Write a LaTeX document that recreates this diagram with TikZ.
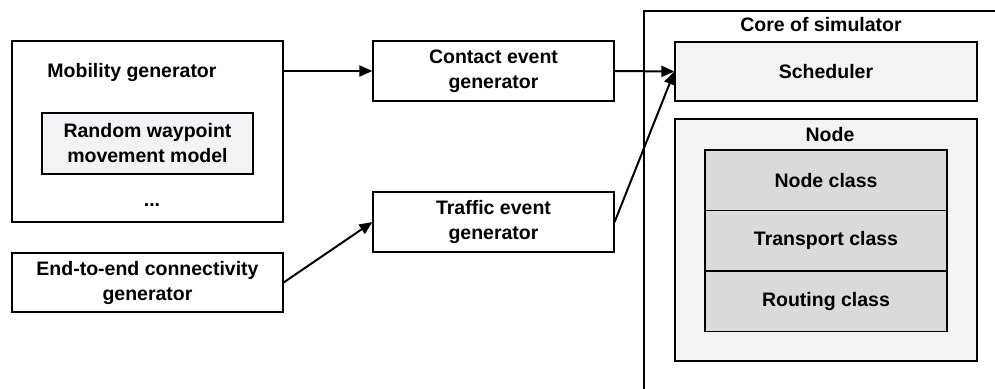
\documentclass[tikz,border=0pt]{standalone}
\usepackage{fontspec}
\setmainfont{Liberation Sans}
\usetikzlibrary{arrows.meta}
\definecolor{boxlight}{HTML}{F2F3F5}
\definecolor{boxgray}{HTML}{DADAD8}
\begin{document}
\begin{tikzpicture}[
    x=1pt, y=-1pt,
    every node/.style={font=\fontsize{19.5}{25}\selectfont\bfseries, align=center, inner sep=0pt},
    box/.style={draw, line width=1.2pt, rectangle},
    link/.style={line width=2pt, -{Triangle[length=13pt, width=11pt]}}
]
\useasboundingbox (0,0) rectangle (995,388);

\node[box, minimum width=271, minimum height=181] (mob) at (147.5,131.5) {};
\node (mobtitle) at (132,73) {Mobility generator};
\node[box, fill=boxlight, minimum width=211, minimum height=61] (rwp) at (147.5,143.5) {Random waypoint\\movement model};
\node (dots) at (152,205) {...};

\node[box, minimum width=271, minimum height=59] (e2e) at (147.5,282.5) {End-to-end connectivity\\generator};

\node[box, minimum width=241, minimum height=60] (contact) at (493.5,71) {Contact event\\generator};
\node[box, minimum width=241, minimum height=60] (traffic) at (493.5,222) {Traffic event\\generator};

% core of simulator, cut by the page edge
\draw[line width=1.2pt] (644,390) -- (644,11) -- (997,11);
\node (coretitle) at (821,25) {Core of simulator};
\node[box, fill=boxlight, minimum width=302, minimum height=59] (sched) at (826,71.5) {Scheduler};
\node[box, fill=boxlight, minimum width=302, minimum height=242] (nodebox) at (826,240) {};
\node (nodetitle) at (830,135) {Node};
\node[box, fill=boxgray, minimum width=242, minimum height=60.5] (nodecls) at (826,180.25) {Node class};
\node[box, fill=boxgray, minimum width=242, minimum height=60.5] (transcls) at (826,240.75) {Transport class};
\node[box, fill=boxgray, minimum width=242, minimum height=60.5] (routecls) at (826,301.25) {Routing class};

\draw[link] (mob.east |- contact.west) -- (contact.west);
\draw[link] (contact.east) -- (sched.west);
\draw[link] (traffic.east) -- (sched.west);
\draw[link] (e2e.east) -- (traffic.west);
\end{tikzpicture}
\end{document}
